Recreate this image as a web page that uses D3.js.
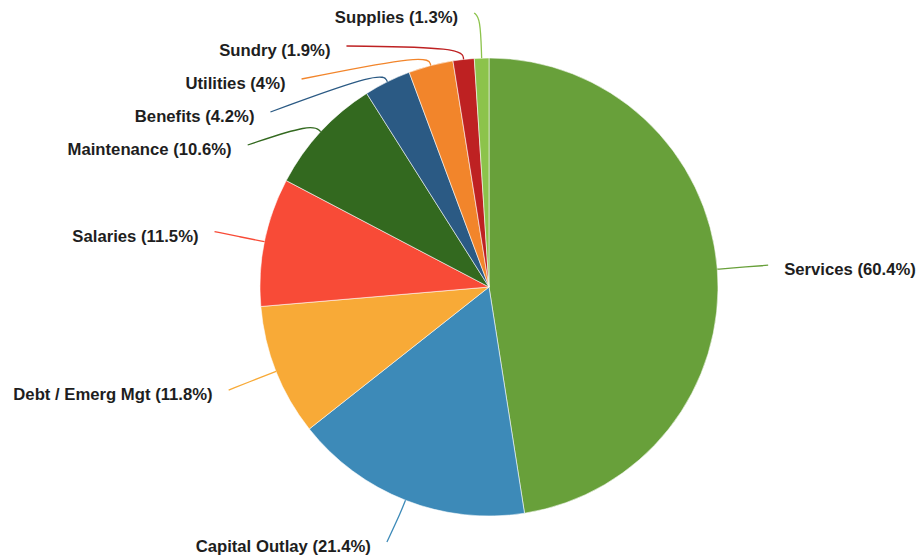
<html>

<head>
    <script src="https://d3js.org/d3.v7.min.js"></script>
    <style>
        body { margin: 0; background: #fff; }
    </style>
</head>

<body>
    <svg id="svg" width="920" height="560"></svg>

    <script>
        // DATA
        const categories = ["Services", "Capital Outlay", "Debt / Emerg Mgt", "Salaries", "Maintenance",
            "Benefits", "Utilities", "Sundry", "Supplies"]
        const values = [60.4, 21.4, 11.8, 11.5, 10.6, 4.2, 4, 1.9, 1.3]
        const colors = ["#68a03a", "#3d8ab8", "#f8aa37", "#f84b37", "#33691f",
            "#2b5a84", "#f2852b", "#be2122", "#8cc34b"]

        // VARIABLES
        const width = 920, height = 560
        const cx = 489, cy = 287
        const radius = 229
        const labelRadius = 280
        const labelGap = 33
        const topLimit = 13, bottomLimit = 542

        const data = categories.map((c, i) => ({ name: c, value: values[i], color: colors[i] }))

        const pie = d3.pie().value(d => d.value)   // default sort: descending
        const arcs = pie(data)

        const arc = d3.arc().innerRadius(0).outerRadius(radius)
        const edgeArc = d3.arc().innerRadius(radius).outerRadius(radius)
        const labelArc = d3.arc().innerRadius(labelRadius).outerRadius(labelRadius)

        const svg = d3.select("#svg")
        const g = svg.append("g").attr("transform", `translate(${cx},${cy})`)

        g.selectAll("path.slice")
            .data(arcs)
            .enter().append("path")
            .attr("class", "slice")
            .attr("d", arc)
            .attr("fill", d => d.data.color)
            .attr("stroke", "#fff")
            .attr("stroke-width", 0.8)
            .attr("stroke-opacity", 0.7)

        // LABEL POSITIONS
        arcs.forEach(d => {
            d.mid = (d.startAngle + d.endAngle) / 2
            d.side = d.mid < Math.PI ? 1 : -1
            const [x, y] = labelArc.centroid(d)
            d.lx = x
            d.ly = y
        })

        // clamp to canvas, then push apart on each side
        const clampY = y => Math.max(topLimit - cy, Math.min(bottomLimit - cy, y))
        ;[1, -1].forEach(side => {
            const group = arcs.filter(d => d.side === side).sort((a, b) => a.ly - b.ly)
            let prev = null
            group.forEach(d => {
                const y0 = d.ly
                d.ly = clampY(d.ly)
                if (prev !== null && d.ly < prev + labelGap) {
                    d.ly = prev + labelGap
                    const dx = Math.sqrt(Math.max(0, labelRadius * labelRadius - d.ly * d.ly))
                    d.lx = side * dx
                } else if (d.ly !== y0 && d.ly < 0) {
                    // pulled down from the top edge: lean towards its side a little
                    d.lx += side * (d.ly - y0)
                }
                prev = d.ly
            })
        })

        // LINES
        const line = d3.line().curve(d3.curveBasis)
        g.selectAll("path.link")
            .data(arcs)
            .enter().append("path")
            .attr("class", "link")
            .attr("fill", "none")
            .attr("stroke", d => d.data.color)
            .attr("stroke-width", 1.3)
            .attr("d", d => {
                const p1 = edgeArc.centroid(d)
                const s = Math.sin(d.mid), c = -Math.cos(d.mid)
                // go out radially until the label row (min 12px)
                let out = 12
                if (c < 0 && p1[1] > d.ly + 5) out = Math.min(40, Math.max(12, (p1[1] - d.ly - 5) / -c))
                const p2 = [p1[0] + s * out, p1[1] + c * out]
                return line([p1, p2, [d.lx, d.ly]])
            })

        g.selectAll("text")
            .data(arcs)
            .enter().append("text")
            .attr("x", d => d.lx + d.side * 16)
            .attr("y", d => d.ly + 4)
            .attr("dy", "0.35em")
            .attr("text-anchor", d => d.side > 0 ? "start" : "end")
            .style("font", "bold 16.7px 'Liberation Sans', Arial, sans-serif")
            .attr("fill", "#1e1e1e")
            .text(d => `${d.data.name} (${d.data.value}%)`)
    </script>
</body>

</html>
